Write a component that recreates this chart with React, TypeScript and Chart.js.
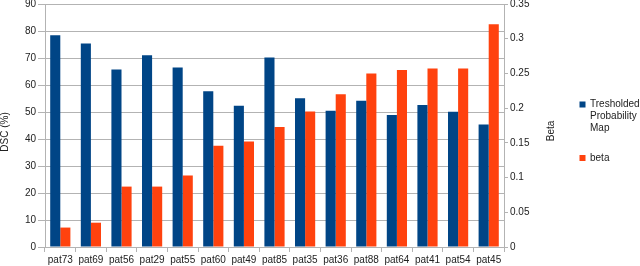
import React, { useEffect, useRef } from "react";
import { Chart, registerables } from "chart.js";

Chart.register(...registerables);

const categories = ["pat73", "pat69", "pat56", "pat29", "pat55", "pat60", "pat49", "pat85", "pat35", "pat36", "pat88", "pat64", "pat41", "pat54", "pat45"];
const dscValues = [78.4, 75.4, 65.7, 71.0, 66.5, 57.7, 52.3, 70.2, 55.1, 50.5, 54.2, 48.9, 52.6, 50.1, 45.4];
const betaValues = [0.028, 0.035, 0.087, 0.087, 0.103, 0.146, 0.152, 0.173, 0.195, 0.22, 0.25, 0.255, 0.257, 0.257, 0.321];
const seriesNames = ["Tresholded Probability Map", "beta"];
const legendLines = [["Tresholded", "Probability", "Map"], ["beta"]];
const leftTitle = "DSC (%)";
const rightTitle = "Beta";

const BLUE = "#004586";
const ORANGE = "#ff420e";
const GRID = "#b3b3b3";
const TEXT = "#222222";
const FONT = "'Liberation Sans', Arial, sans-serif";

const overlayPlugin = {
  id: "overlay",
  afterDraw(chart: any) {
    const ctx = chart.ctx as CanvasRenderingContext2D;
    ctx.save();
    ctx.font = `10px ${FONT}`;
    ctx.fillStyle = TEXT;
    ctx.textAlign = "center";
    ctx.textBaseline = "middle";
    // left axis title
    ctx.save();
    ctx.translate(5.5, 132);
    ctx.rotate(-Math.PI / 2);
    ctx.fillText(leftTitle, 0, 0);
    ctx.restore();
    // right axis title
    ctx.save();
    ctx.translate(551, 131);
    ctx.rotate(-Math.PI / 2);
    ctx.fillText(rightTitle, 0, 0);
    ctx.restore();
    // legend
    const colors = [BLUE, ORANGE];
    const starts = [104.5, 158];
    ctx.textAlign = "left";
    legendLines.forEach((lines, i) => {
      ctx.fillStyle = colors[i];
      ctx.fillRect(579.5, starts[i] - 3, 6, 6);
      ctx.fillStyle = TEXT;
      lines.forEach((ln, j) => {
        ctx.fillText(ln, 590, starts[i] + j * 11.8);
      });
    });
    ctx.restore();
  },
};

export default function App() {
  const ref = useRef<HTMLCanvasElement | null>(null);

  useEffect(() => {
    document.body.style.margin = "0";
    if (!ref.current) return;
    Chart.defaults.font.family = FONT;
    Chart.defaults.font.size = 10;
    Chart.defaults.color = TEXT;
    const chart = new Chart(ref.current, {
      type: "bar",
      data: {
        labels: categories,
        datasets: [
          {
            label: seriesNames[0],
            data: dscValues,
            backgroundColor: BLUE,
            yAxisID: "y",
            categoryPercentage: 0.66,
            barPercentage: 1.0,
          },
          {
            label: seriesNames[1],
            data: betaValues,
            backgroundColor: ORANGE,
            yAxisID: "y1",
            categoryPercentage: 0.66,
            barPercentage: 1.0,
          },
        ],
      },
      options: {
        animation: false,
        responsive: false,
        devicePixelRatio: 1,
        layout: { padding: { top: 4, right: 76, left: 0, bottom: 0 } },
        plugins: {
          legend: { display: false },
          tooltip: { enabled: false },
        },
        scales: {
          x: {
            offset: true,
            grid: {
              offset: true,
              drawOnChartArea: false,
              drawTicks: true,
              tickLength: 5,
              color: GRID,
            },
            border: { color: GRID },
            ticks: { padding: 2, color: TEXT, font: { size: 10 }, maxRotation: 0, autoSkip: false },
            afterFit(scale: any) {
              scale.height = 19;
              scale.paddingLeft = 0;
              scale.paddingRight = 0;
            },
          },
          y: {
            position: "left",
            min: 0,
            max: 90,
            ticks: { stepSize: 10, padding: 2, color: TEXT, font: { size: 10 } },
            grid: { color: GRID, tickLength: 7 },
            border: { color: GRID },
            afterFit(scale: any) {
              scale.width = 45;
              scale.paddingTop = 0;
              scale.paddingBottom = 0;
            },
          },
          y1: {
            position: "right",
            min: 0,
            max: 0.35,
            ticks: {
              stepSize: 0.05,
              padding: 2,
              color: TEXT,
              font: { size: 10 },
              callback: (v: any) => String(Number(Number(v).toFixed(2))),
            },
            grid: { drawOnChartArea: false, color: GRID, tickLength: 4 },
            border: { color: GRID },
            afterFit(scale: any) {
              scale.width = 60;
              scale.paddingTop = 0;
              scale.paddingBottom = 0;
            },
          },
        },
      },
      plugins: [overlayPlugin],
    });
    return () => chart.destroy();
  }, []);

  return (
    <div style={{ width: 640, height: 266 }}>
      <canvas ref={ref} width={640} height={266} style={{ display: "block" }} />
    </div>
  );
}
